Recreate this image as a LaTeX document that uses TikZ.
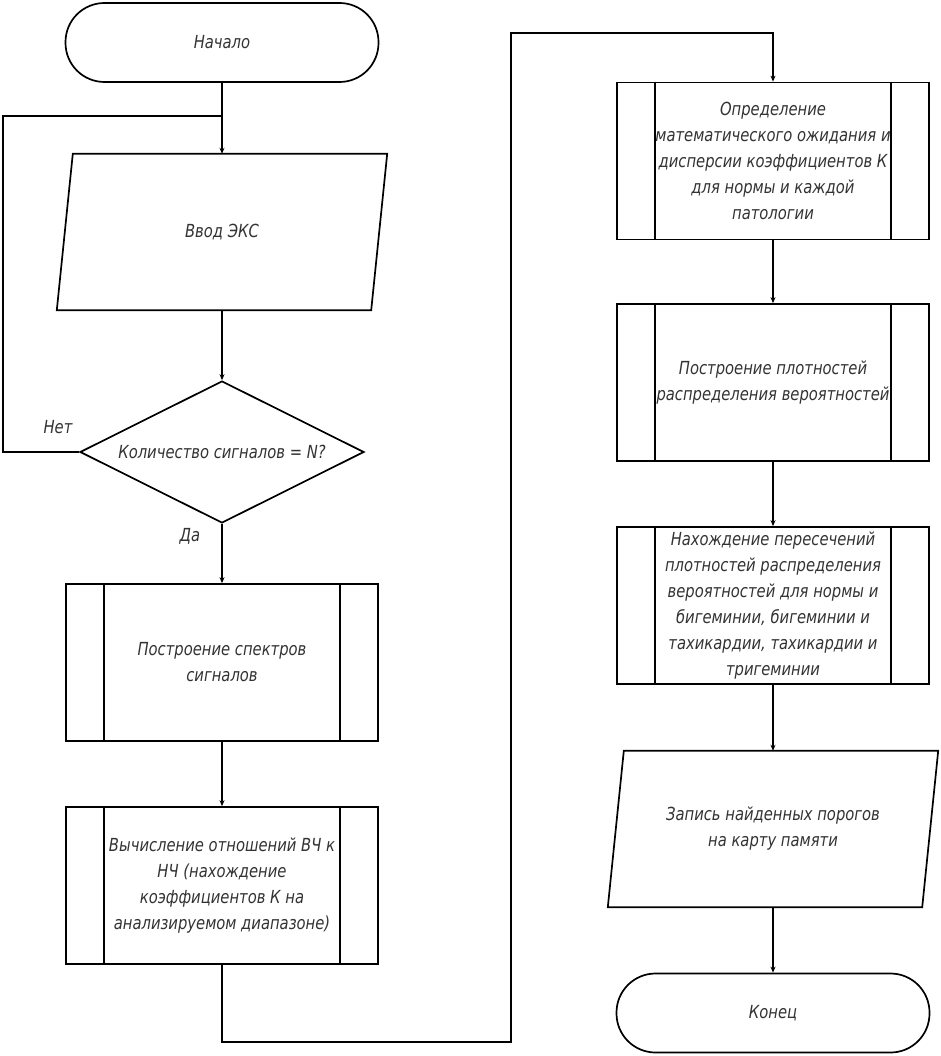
\documentclass[tikz,border=0pt]{standalone}
\usepackage{fontspec}
\newfontfamily\gost[FakeStretch=0.82]{DejaVu Sans}
\usetikzlibrary{shapes.geometric,arrows.meta,calc}
\definecolor{txt}{HTML}{333333}
\tikzset{
  base/.style={inner sep=0pt, align=center, text=txt,
    font=\gost\itshape\fontsize{18}{26}\selectfont},
  term/.style={base, draw, line width=1.7pt, rounded corners=39pt, minimum width=313pt, minimum height=79pt},
  io/.style={base, minimum width=314pt, minimum height=156pt},
  proc/.style={base, draw, line width=1.7pt, minimum width=312pt, minimum height=157pt},
  dec/.style={base, draw, line width=1.7pt, diamond, aspect=2, minimum width=284pt, minimum height=142pt},
  lbl/.style={base},
  link/.style={line width=1.7pt},
  arr/.style={link, -{Stealth[length=6pt,width=5pt]}}
}
\begin{document}
\begin{tikzpicture}[x=1pt,y=-1pt]
\useasboundingbox (0,0) rectangle (940,1056);
% left column
\node[term] (start) at (222,42.5) {Начало};
\node[io] (in) at (222,232) {Ввод ЭКС};
\node[dec] (q) at (222,452) {Количество сигналов = N?};
\node[proc] (b1) at (222,662.5) {Построение спектров\\сигналов};
\node[proc] (b2) at (222,885.5) {Вычисление отношений ВЧ к\\НЧ (нахождение\\коэффициентов К на\\анализируемом диапазоне)};
% right column
\node[proc] (b3) at (773,161) {Определение\\математического ожидания и\\дисперсии коэффициентов К\\для нормы и каждой\\патологии};
\node[proc] (b4) at (773,382.5) {Построение плотностей\\распределения вероятностей};
\node[proc] (b5) at (773,605.5) {Нахождение пересечений\\плотностей распределения\\вероятностей для нормы и\\бигеминии, бигеминии и\\тахикардии, тахикардии и\\тригеминии};
\node[io] (out) at (773,829) {Запись найденных порогов\\на карту памяти};
\node[term] (end) at (773,1013) {Конец};
% labels
\node[lbl] (no) at (58,427) {Нет};
\node[lbl] (yes) at (190,536) {Да};
% parallelogram outlines
\foreach \n in {in,out}
  \draw[link, line join=miter] ([xshift=8pt]\n.north west) -- ([xshift=8pt]\n.north east) -- ([xshift=-8pt]\n.south east) -- ([xshift=-8pt]\n.south west) -- cycle;
% predefined process inner lines
\foreach \n in {b1,b2,b3,b4,b5}
  \draw[link] ([xshift=39pt]\n.north west) -- ([xshift=39pt]\n.south west)
              ([xshift=-39pt]\n.north east) -- ([xshift=-39pt]\n.south east);
% connectors
\coordinate (loopc) at (3,116);
\coordinate (c1) at (511,1042);
\coordinate (c2) at (511,33);
\draw[arr] (start.south) -- (in.north);
\draw[link] (q.west) -| (loopc) -- (start.south |- loopc);
\draw[arr] (in.south) -- (q.north);
\draw[arr] (q.south) -- (b1.north);
\draw[arr] (b1.south) -- (b2.north);
\draw[arr] (b2.south) |- (c1) -- (c2) -| (b3.north);
\draw[arr] (b3.south) -- (b4.north);
\draw[arr] (b4.south) -- (b5.north);
\draw[arr] (b5.south) -- (out.north);
\draw[arr] (out.south) -- (end.north);
\end{tikzpicture}
\end{document}
